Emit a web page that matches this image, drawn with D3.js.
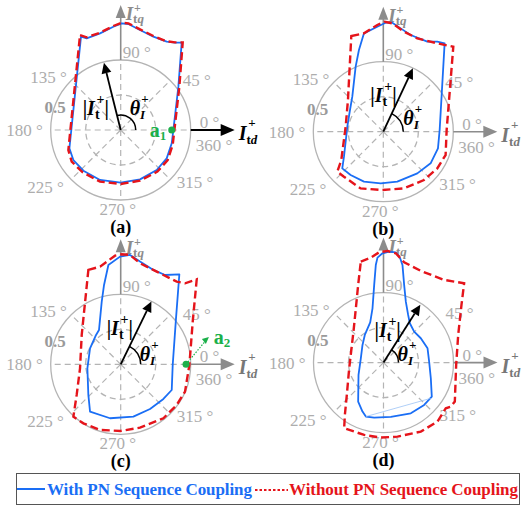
<!DOCTYPE html>
<html lang="en">
<head>
<meta charset="utf-8">
<title>PN coupling polar plots</title>
<script src="https://cdn.jsdelivr.net/npm/d3@7"></script>
<style>
  body { margin: 0; background: #fff; }
  text { font-family: "Liberation Serif", "Times New Roman", serif; }
</style>
</head>
<body>
<script>
// boundary points, per unit current (Itd, Itq), circle radius = 1
var blueA = [[-0.567,1.333],[-0.486,1.310],[-0.295,1.381],[-0.105,1.476],[0.014,1.524],[0.110,1.514],[0.276,1.429],[0.467,1.333],[0.657,1.262],[0.776,1.248],[0.871,1.248],[0.824,0.619],[0.752,0],[0.729,-0.190],[0.657,-0.405],[0.514,-0.571],[0.276,-0.705],[0,-0.752],[-0.295,-0.714],[-0.533,-0.581],[-0.676,-0.429],[-0.733,-0.262]];
var redA = [[-0.581,1.357],[-0.486,1.324],[-0.295,1.390],[-0.105,1.486],[0.014,1.533],[0.110,1.524],[0.276,1.438],[0.467,1.343],[0.657,1.267],[0.776,1.252],[0.886,1.252],[0.838,0.619],[0.767,0],[0.743,-0.214],[0.671,-0.429],[0.524,-0.595],[0.276,-0.724],[0,-0.771],[-0.295,-0.738],[-0.543,-0.605],[-0.700,-0.452],[-0.748,-0.286]];

var blueB = [[-0.276,1.405],[-0.086,1.5],[0.033,1.557],[0.129,1.557],[0.248,1.476],[0.390,1.381],[0.629,1.286],[0.771,1.286],[0.876,1.262],[0.805,0.024],[0.781,-0.238],[0.676,-0.452],[0.486,-0.595],[0.2,-0.714],[-0.038,-0.738],[-0.276,-0.714],[-0.467,-0.619],[-0.586,-0.524],[-0.562,-0.357],[-0.514,0.071],[-0.476,0.31],[-0.443,0.5],[-0.395,0.929],[-0.348,1.167]];
var redB = [[-0.457,1.367],[-0.276,1.405],[-0.086,1.524],[0.019,1.571],[0.129,1.548],[0.295,1.429],[0.486,1.333],[0.771,1.262],[1.0,1.214],[0.905,0.024],[0.890,-0.333],[0.771,-0.524],[0.581,-0.690],[0.295,-0.810],[-0.014,-0.833],[-0.324,-0.810],[-0.562,-0.643],[-0.657,-0.571],[-0.6,-0.405],[-0.538,0.071],[-0.505,0.452]];

var blueC = [[-0.176,1.419],[-0.01,1.538],[0.133,1.562],[0.276,1.467],[0.467,1.348],[0.633,1.276],[0.838,1.286],[0.790,0.657],[0.743,-0.01],[0.729,-0.367],[0.610,-0.495],[0.419,-0.638],[0.181,-0.748],[-0.152,-0.771],[-0.438,-0.676],[-0.462,-0.438],[-0.476,-0.057],[-0.438,0.229],[-0.352,0.419],[-0.310,0.490],[-0.271,0.895],[-0.238,1.133]];
var redC = [[-0.462,1.348],[-0.295,1.395],[-0.081,1.552],[0.014,1.571],[0.133,1.562],[0.276,1.443],[0.514,1.324],[0.8,1.181],[0.919,1.157],[1.086,1.214],[1.029,0.610],[0.981,-0.01],[0.919,-0.390],[0.8,-0.581],[0.610,-0.771],[0.276,-0.905],[0,-0.952],[-0.295,-0.938],[-0.533,-0.843],[-0.676,-0.748],[-0.629,-0.438],[-0.581,-0.057],[-0.557,0.419]];

var blueD = [[-0.086,1.5],[-0.014,1.562],[0.081,1.586],[0.176,1.576],[0.238,1.490],[0.271,1.395],[0.295,1.110],[0.319,0.871],[0.352,0.681],[0.376,0.562],[0.438,0.443],[0.533,0.348],[0.629,0.205],[0.652,0.014],[0.676,-0.224],[0.690,-0.486],[0.581,-0.605],[0.390,-0.724],[0.105,-0.776],[-0.133,-0.786],[-0.252,-0.771],[-0.3,-0.7],[-0.362,-0.557],[-0.357,-0.176],[-0.324,0.062],[-0.3,0.252],[-0.267,0.395],[-0.190,0.576],[-0.157,0.776],[-0.133,1.110],[-0.110,1.395]];
var blueDChord = [[-0.252,-0.771],[0.676,-0.510]];
var redD = [[-0.324,1.443],[-0.181,1.5],[-0.062,1.576],[0.057,1.595],[0.176,1.562],[0.295,1.433],[0.533,1.310],[0.867,1.181],[1.152,1.133],[1.114,0.824],[1.067,0.395],[1.038,-0.033],[1.019,-0.557],[0.962,-0.629],[0.890,-0.652],[0.771,-0.843],[0.533,-0.986],[0.2,-1.057],[-0.038,-1.071],[-0.276,-1.033],[-0.562,-0.938],[-0.552,-0.748],[-0.524,-0.462],[-0.490,-0.081],[-0.457,0.205],[-0.429,0.443],[-0.395,0.776],[-0.362,1.110]];

// current vector angle (deg) and magnitude per panel
var vecAngle = [104, 65, 64, 57.5];
var vecMag = [0.99, 1.0, 1.0, 0.98];

var gridAngles = [0, 45, 90, 135, 180, 225, 270, 315];
var gridRadii = [0.5, 1];
var tickLabels = ["0°", "45°", "90°", "135°", "180°", "225°", "270°", "315°", "360°"];
var panelLabels = ["(a)", "(b)", "(c)", "(d)"];
var legendLabels = ["With PN Sequence Coupling", "Without PN Sequence Coupling"];

var blue = "#1a6ef5", red = "#e5141b", green = "#1bb04a", grid = "#b4b4b4";
var W = 528, H = 506, R = 70;

var svg = d3.select("body").append("svg")
    .attr("width", W)
    .attr("height", H);

// tick label offsets from the pole (x, baseline, anchor)
var tickPos = {
  "0°": [79, -2, "start"], "45°": [62, -44, "start"], "90°": [2, -72, "start"],
  "135°": [-54, -47, "end"], "180°": [-78, 6, "end"], "225°": [-57, 63, "end"],
  "270°": [-3, 85, "middle"], "315°": [56, 58, "start"], "360°": [75, 21, "start"]
};

var panels = [
  {cx: 120.7, cy: 130, blue: blueA, red: redA, arc: 15, lbl: [-38, -15], th: [9, -15], tdBlack: true},
  {cx: 383.3, cy: 131.7, blue: blueB, red: redB, arc: 20, lbl: [-13, -30], th: [20, -7]},
  {cx: 120.7, cy: 364.3, blue: blueC, red: redC, arc: 20, lbl: [-14, -29], th: [19, -3]},
  {cx: 383.5, cy: 362.6, blue: blueD, red: redD, arc: 15, lbl: [-9, -26], th: [14, -2]}
];

function sub(t, parts) {
  parts.forEach(function(p) {
    var s = t.append("tspan").text(p.t)
      .attr("font-size", p.fs)
      .attr("font-weight", "bold")
      .attr("font-style", p.it ? "italic" : "normal");
    if (p.dx) s.attr("dx", p.dx);
    if (p.dy) s.attr("dy", p.dy);
  });
}

panels.forEach(function(p, i) {
  var x = d3.scaleLinear().domain([-1, 1]).range([p.cx - R, p.cx + R]);
  var y = d3.scaleLinear().domain([-1, 1]).range([p.cy + R, p.cy - R]);
  var g = svg.append("g");
  var rad = Math.PI / 180;

  // grid circles
  g.selectAll("circle.grid")
    .data(gridRadii)
    .enter()
    .append("circle")
    .attr("cx", x(0)).attr("cy", y(0))
    .attr("r", function(d) { return x(d) - x(0); })
    .attr("fill", "none")
    .attr("stroke", grid)
    .attr("stroke-width", 1.3)
    .attr("stroke-dasharray", function(d) { return d < 1 ? "6,4" : null; });

  // spokes
  g.selectAll("line.spoke")
    .data(gridAngles)
    .enter()
    .append("line")
    .attr("x1", x(0)).attr("y1", y(0))
    .attr("x2", function(d) { return x(Math.cos(d * rad)); })
    .attr("y2", function(d) { return y(Math.sin(d * rad)); })
    .attr("stroke", grid)
    .attr("stroke-width", 1.2)
    .attr("stroke-dasharray", "6,4");

  // tick labels
  g.selectAll("text.tick")
    .data(tickLabels)
    .enter()
    .append("text")
    .text(function(d) { return d.replace("°", " °"); })
    .attr("x", function(d) { return p.cx + tickPos[d][0]; })
    .attr("y", function(d) { return p.cy + tickPos[d][1]; })
    .attr("text-anchor", function(d) { return tickPos[d][2]; })
    .attr("font-size", "17px")
    .attr("fill", "#adadad");
  g.append("text").text("0.5")
    .attr("x", p.cx - 55).attr("y", p.cy - 17)
    .attr("text-anchor", "end")
    .attr("font-size", "17px")
    .attr("font-weight", "bold")
    .attr("fill", "#9a9a9a");

  // q axis (vertical)
  var axisCol = "#8c8c8c";
  g.append("line")
    .attr("x1", x(0)).attr("y1", y(1))
    .attr("x2", x(0)).attr("y2", y(0) - 116)
    .attr("stroke", axisCol).attr("stroke-width", 1.6);
  g.append("path")
    .attr("d", "M" + x(0) + "," + (y(0) - 125) + "l-5,13l10,0z")
    .attr("fill", axisCol);
  // d axis (horizontal)
  var dCol = p.tdBlack ? "#000" : axisCol;
  g.append("line")
    .attr("x1", x(1)).attr("y1", y(0))
    .attr("x2", x(0) + 103).attr("y2", y(0))
    .attr("stroke", dCol).attr("stroke-width", p.tdBlack ? 2 : 1.6);
  g.append("path")
    .attr("d", "M" + (x(0) + 114) + "," + y(0) + "l-14,-6l0,12z")
    .attr("fill", dCol);

  // axis labels
  var tq = g.append("text").attr("x", p.cx + 5).attr("y", p.cy - 110).attr("fill", axisCol);
  sub(tq, [{t: "I", fs: "19px", it: true}, {t: "t", fs: "13px", dy: 3}, {t: "q", fs: "13px", it: true},
           {t: "+", fs: "12px", dx: -10, dy: -11}]);
  var td = g.append("text").attr("x", p.cx + 118).attr("y", p.cy + 10).attr("fill", p.tdBlack ? "#000" : "#777");
  sub(td, [{t: "I", fs: "20px", it: true}, {t: "t", fs: "13px", dy: 4}, {t: "d", fs: "13px", it: true},
           {t: "+", fs: "13px", dx: -9, dy: -17}]);

  // boundaries
  var line = d3.line()
    .x(function(d) { return x(d[0]); })
    .y(function(d) { return y(d[1]); })
    .curve(d3.curveLinearClosed);
  g.append("path")
    .attr("d", line(p.blue))
    .attr("fill", "none")
    .attr("stroke", blue)
    .attr("stroke-width", 1.8)
    .attr("stroke-linejoin", "round");
  if (i === 3) {
    g.append("path")
      .attr("d", d3.line().x(function(d) { return x(d[0]); }).y(function(d) { return y(d[1]); })(blueDChord))
      .attr("stroke", "#9cc3f5")
      .attr("stroke-width", 0.8);
  }
  g.append("path")
    .attr("d", line(p.red))
    .attr("fill", "none")
    .attr("stroke", red)
    .attr("stroke-width", 2.4)
    .attr("stroke-dasharray", "8,4");

  // current vector
  var a = vecAngle[i] * rad, m = vecMag[i];
  var tx = x(m * Math.cos(a)), ty = y(m * Math.sin(a));
  var bx = x((m - 0.15) * Math.cos(a)), by = y((m - 0.15) * Math.sin(a));
  g.append("line")
    .attr("x1", x(0)).attr("y1", y(0))
    .attr("x2", bx).attr("y2", by)
    .attr("stroke", "#000").attr("stroke-width", 1.8);
  var nx = -Math.sin(a) * 5, ny = -Math.cos(a) * 5;
  g.append("path")
    .attr("d", "M" + tx + "," + ty + "L" + (bx + nx) + "," + (by + ny) + "L" + (bx - nx) + "," + (by - ny) + "Z")
    .attr("fill", "#000");

  // angle arc
  g.append("path")
    .attr("transform", "translate(" + x(0) + "," + y(0) + ")")
    .attr("d", d3.arc()({innerRadius: p.arc, outerRadius: p.arc, startAngle: Math.PI / 2, endAngle: Math.PI / 2 - a}))
    .attr("fill", "none")
    .attr("stroke", "#000")
    .attr("stroke-width", 1.5);

  // |It+| label
  var mag = g.append("text").attr("x", p.cx + p.lbl[0]).attr("y", p.cy + p.lbl[1]).attr("fill", "#000");
  sub(mag, [{t: "|", fs: "20px"}, {t: "I", fs: "20px", it: true}, {t: "t", fs: "14px", dy: 4},
            {t: "+", fs: "14px", dx: -3, dy: -15}, {t: "|", fs: "20px", dy: 11}]);
  // theta label
  var th = g.append("text").attr("x", p.cx + p.th[0]).attr("y", p.cy + p.th[1]).attr("fill", "#000");
  sub(th, [{t: "θ", fs: "20px", it: true}, {t: "I", fs: "13px", it: true, dy: 4},
           {t: "+", fs: "13px", dx: -4, dy: -16}]);

  // panel label
  g.append("text").text(panelLabels[i])
    .attr("x", p.cx).attr("y", p.cy + 103)
    .attr("text-anchor", "middle")
    .attr("font-size", "18px")
    .attr("font-weight", "bold");

  // marked operating points
  if (i === 0) {
    g.append("circle").attr("cx", x(0.729)).attr("cy", y(0)).attr("r", 3.5).attr("fill", green);
    var a1 = g.append("text").attr("x", p.cx + 29).attr("y", p.cy + 7).attr("fill", green);
    sub(a1, [{t: "a", fs: "20px"}, {t: "1", fs: "13px", dy: 3}]);
  }
  if (i === 2) {
    g.append("circle").attr("cx", x(0.933)).attr("cy", y(0)).attr("r", 3.5).attr("fill", green);
    g.append("line")
      .attr("x1", x(0.933)).attr("y1", y(0))
      .attr("x2", x(1.2)).attr("y2", y(0.32))
      .attr("stroke", green).attr("stroke-width", 1.2).attr("stroke-dasharray", "1.5,1.5");
    g.append("path")
      .attr("d", "M" + x(1.26) + "," + y(0.39) + "l-7,2l4,5z")
      .attr("fill", green);
    var a2 = g.append("text").attr("x", p.cx + 93).attr("y", p.cy - 20).attr("fill", green);
    sub(a2, [{t: "a", fs: "20px"}, {t: "2", fs: "13px", dy: 3}]);
  }
});

// legend
var lg = svg.append("g");
lg.append("rect")
  .attr("x", 16.5).attr("y", 473.5)
  .attr("width", 503).attr("height", 31)
  .attr("fill", "none")
  .attr("stroke", "#555")
  .attr("stroke-width", 1);
lg.append("line").attr("x1", 17).attr("x2", 45).attr("y1", 489).attr("y2", 489)
  .attr("stroke", blue).attr("stroke-width", 2);
lg.append("text").text(legendLabels[0])
  .attr("x", 47).attr("y", 495)
  .attr("font-size", "17px").attr("font-weight", "bold")
  .attr("fill", blue)
  .attr("textLength", 205).attr("lengthAdjust", "spacing");
lg.append("line").attr("x1", 255).attr("x2", 288).attr("y1", 490).attr("y2", 490)
  .attr("stroke", red).attr("stroke-width", 2).attr("stroke-dasharray", "2.5,2");
lg.append("text").text(legendLabels[1])
  .attr("x", 289).attr("y", 495)
  .attr("font-size", "17px").attr("font-weight", "bold")
  .attr("fill", red)
  .attr("textLength", 229).attr("lengthAdjust", "spacing");
</script>
</body>
</html>
